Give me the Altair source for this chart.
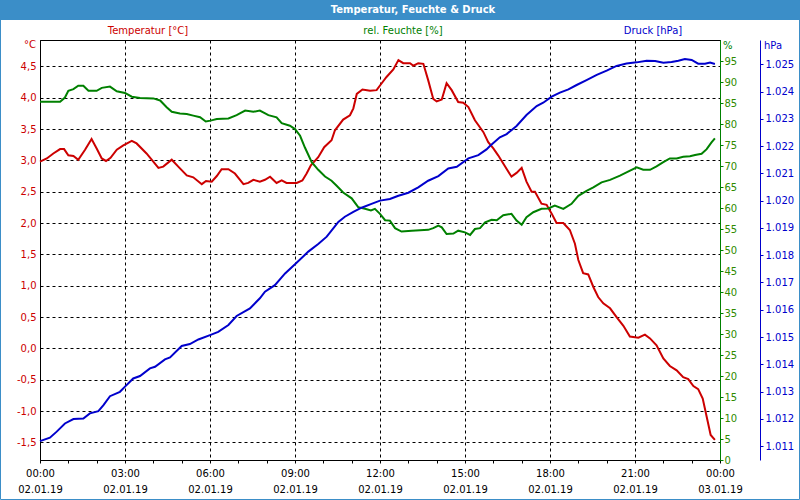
import altair as alt
import pandas as pd

# ---------------- data (hours since 02.01.19 00:00) ----------------
temp_h = [0.00, 0.24, 0.47, 0.71, 0.85, 1.00, 1.18, 1.35, 1.59, 1.82, 2.00, 2.18, 2.33, 2.49, 2.71, 2.94,
          3.24, 3.41, 3.76, 4.18, 4.35, 4.65, 4.88, 5.18, 5.41, 5.71, 5.86, 6.06, 6.24, 6.41, 6.65, 6.88,
          7.18, 7.35, 7.53, 7.76, 7.94, 8.12, 8.35, 8.53, 8.70, 9.06, 9.26, 9.41, 9.56, 9.82, 10.03, 10.29,
          10.41, 10.70, 10.94, 11.06, 11.18, 11.38, 11.65, 11.88, 12.06, 12.23, 12.47, 12.65, 12.82, 13.06,
          13.18, 13.35, 13.53, 13.70, 13.88, 14.00, 14.18, 14.35, 14.53, 14.76, 14.94, 15.12, 15.35, 15.65,
          15.82, 16.00, 16.17, 16.35, 16.64, 16.82, 17.00, 17.17, 17.35, 17.47, 17.70, 17.88, 18.06, 18.23,
          18.47, 18.70, 18.88, 19.00, 19.17, 19.35, 19.53, 19.70, 19.88, 20.12, 20.35, 20.59, 20.82, 21.12,
          21.35, 21.53, 21.76, 22.00, 22.23, 22.47, 22.70, 22.88, 23.06, 23.23, 23.39, 23.53, 23.67, 23.82]
temp_v = [2.98, 3.03, 3.11, 3.18, 3.18, 3.08, 3.07, 3.01, 3.17, 3.34, 3.19, 3.03, 2.99, 3.04, 3.17, 3.24,
          3.31, 3.27, 3.11, 2.88, 2.90, 3.01, 2.90, 2.76, 2.73, 2.62, 2.67, 2.66, 2.75, 2.86, 2.86, 2.79,
          2.62, 2.64, 2.69, 2.66, 2.69, 2.74, 2.64, 2.68, 2.64, 2.64, 2.68, 2.79, 2.92, 3.05, 3.21, 3.32,
          3.48, 3.65, 3.72, 3.83, 4.06, 4.13, 4.11, 4.12, 4.23, 4.33, 4.45, 4.60, 4.55, 4.55,
          4.51, 4.55, 4.54, 4.28, 3.98, 3.94, 3.97, 4.23, 4.12, 3.93, 3.92, 3.85, 3.64, 3.45,
          3.29, 3.19, 3.08, 2.95, 2.74, 2.80, 2.88, 2.66, 2.50, 2.50, 2.31, 2.29, 2.15, 2.00,
          2.00, 1.89, 1.67, 1.41, 1.20, 1.18, 0.98, 0.82, 0.72, 0.64, 0.50, 0.36, 0.19, 0.17,
          0.22, 0.16, 0.05, -0.16, -0.28, -0.35, -0.46, -0.49, -0.60, -0.65, -0.80, -1.09, -1.38, -1.46]

hum_h = [0.00, 0.71, 0.88, 1.00, 1.18, 1.35, 1.53, 1.71, 2.00, 2.18, 2.47, 2.71, 3.00, 3.24, 3.53, 4.00,
         4.24, 4.47, 4.65, 4.94, 5.18, 5.41, 5.65, 5.85, 6.02, 6.24, 6.65, 6.94, 7.24, 7.53, 7.76, 8.06,
         8.35, 8.53, 8.82, 9.00, 9.18, 9.35, 9.59, 9.82, 10.06, 10.29, 10.47, 10.70, 11.00, 11.23, 11.47,
         11.68, 11.82, 12.00, 12.18, 12.35, 12.53, 12.76, 13.12, 13.70, 13.88, 14.06, 14.18, 14.35, 14.59,
         14.76, 15.00, 15.18, 15.35, 15.53, 15.71, 15.94, 16.12, 16.35, 16.64, 16.82, 17.00, 17.17, 17.41,
         17.70, 17.94, 18.17, 18.47, 18.76, 19.00, 19.29, 19.53, 19.82, 20.12, 20.47, 20.70, 21.06, 21.29,
         21.53, 21.76, 22.00, 22.23, 22.47, 22.70, 22.94, 23.12, 23.35, 23.53, 23.70, 23.82]
hum_v = [85.3, 85.3, 86.3, 87.9, 88.3, 89.1, 89.1, 87.9, 87.9, 88.6, 88.9, 87.8, 87.4, 86.5, 86.2, 86.1,
         85.6, 84.0, 82.9, 82.5, 82.4, 82.0, 81.6, 80.6, 80.8, 81.2, 81.3, 82.1, 83.2, 82.9, 83.2, 82.1,
         81.6, 80.2, 79.6, 78.8, 77.2, 74.4, 70.9, 69.1, 67.5, 66.5, 65.3, 63.7, 62.3, 60.2, 59.8,
         59.4, 59.8, 58.6, 57.1, 57.0, 55.2, 54.4, 54.6, 54.8, 55.2, 55.8, 55.4, 53.8, 53.9,
         54.6, 54.2, 53.6, 55.0, 55.2, 56.6, 57.2, 57.1, 58.3, 58.6, 57.0, 56.0, 57.8, 59.0,
         59.8, 59.9, 60.6, 59.8, 61.0, 62.9, 64.1, 64.9, 66.1, 66.7, 67.7, 68.5, 69.7, 69.1,
         69.1, 69.9, 70.9, 71.8, 71.8, 72.2, 72.3, 72.6, 72.9, 74.0, 75.6, 76.6]

pres_h = [0.00, 0.35, 0.59, 0.88, 1.18, 1.53, 1.76, 2.06, 2.24, 2.47, 2.82, 3.00, 3.29, 3.53, 3.88, 4.06,
          4.41, 4.59, 5.00, 5.29, 5.59, 6.00, 6.29, 6.65, 6.94, 7.41, 7.76, 7.94, 8.29, 8.65, 9.00, 9.47,
          9.82, 10.12, 10.35, 10.53, 10.76, 11.06, 11.35, 11.70, 12.00, 12.35, 12.65, 13.00, 13.35, 13.70,
          14.06, 14.41, 14.71, 15.12, 15.47, 15.76, 15.88, 16.23, 16.47, 16.82, 17.17, 17.53, 17.76, 18.06,
          18.35, 18.65, 18.94, 19.29, 19.65, 20.00, 20.35, 20.70, 21.06, 21.41, 21.71, 22.00, 22.29, 22.53,
          22.76, 23.00, 23.23, 23.47, 23.65, 23.82]
pres_v = [1011.18, 1011.31, 1011.53, 1011.83, 1011.99, 1012.01, 1012.20, 1012.28, 1012.50, 1012.83, 1012.99,
          1013.18, 1013.48, 1013.57, 1013.85, 1013.91, 1014.18, 1014.25, 1014.67, 1014.74, 1014.91, 1015.07,
          1015.19, 1015.44, 1015.77, 1016.05, 1016.42, 1016.66, 1016.90, 1017.33, 1017.67, 1018.13, 1018.41,
          1018.68, 1018.98, 1019.22, 1019.41, 1019.59, 1019.74, 1019.88, 1020.00, 1020.06, 1020.18, 1020.29,
          1020.49, 1020.73, 1020.90, 1021.18, 1021.24, 1021.55, 1021.67, 1021.88, 1022.00, 1022.32, 1022.44,
          1022.74, 1023.14, 1023.47, 1023.59, 1023.81, 1023.96, 1024.08, 1024.24, 1024.42, 1024.61, 1024.77,
          1024.94, 1025.03, 1025.07, 1025.13, 1025.12, 1025.06, 1025.08, 1025.13, 1025.19, 1025.16, 1025.02,
          1025.02, 1025.06, 1025.01]

# ticks / labels
x_ticks = list(range(0, 25))
x_label_hours = [0, 3, 6, 9, 12, 15, 18, 21, 24]
x_label_time = ["00:00", "03:00", "06:00", "09:00", "12:00", "15:00", "18:00", "21:00", "00:00"]
x_label_date = ["02.01.19"] * 8 + ["03.01.19"]
temp_ticks = [-1.5, -1.0, -0.5, 0.0, 0.5, 1.0, 1.5, 2.0, 2.5, 3.0, 3.5, 4.0, 4.5]
hum_ticks = list(range(0, 100, 5))
pres_ticks = list(range(1011, 1026))

title_text = "Temperatur, Feuchte & Druck"
legend_texts = ["Temperatur [°C]", "rel. Feuchte [%]", "Druck [hPa]"]
unit_texts = ["°C", "%", "hPa"]

# ---------------- styles ----------------
FONT = "DejaVu Sans"
RED = "#cc0000"
GREEN = "#008000"
GREEN_L = "#2f8a00"
BLUE = "#0000cc"
BAR = "#3b8ec8"

W, H = 680, 420

times_arr = "[" + ",".join("'%s'" % t for t in x_label_time) + "]"
dates_arr = "[" + ",".join("'%s'" % d for d in x_label_date) + "]"
x_label_expr = ("datum.value % 3 == 0 ? [" + times_arr + "[datum.value / 3], "
                + dates_arr + "[datum.value / 3]] : ''")

x_enc = alt.X(
    "h:Q",
    scale=alt.Scale(domain=[0, 24], nice=False, zero=False),
    axis=alt.Axis(
        values=x_ticks, labelExpr=x_label_expr, title=None,
        grid=True, gridColor="black", gridDash=[3, 3], gridWidth=1,
        gridOpacity={"condition": {"test": "datum.value % 3 == 0", "value": 1}, "value": 0},
        tickSize=3, tickColor="black", domainColor="black",
        labelColor="black", labelFont=FONT, labelFontSize=10, labelPadding=5,
        labelLineHeight=16, labelOverlap=False, labelFlush=False, labelBound=False,
    ),
)

temp_df = pd.DataFrame({"h": temp_h, "v": temp_v})
hum_df = pd.DataFrame({"h": hum_h, "v": hum_v})
pres_df = pd.DataFrame({"h": pres_h, "v": pres_v})

temp_line = alt.Chart(temp_df).mark_line(color=RED, strokeWidth=2).encode(
    x=x_enc,
    y=alt.Y("v:Q", scale=alt.Scale(domain=[-1.78, 4.92], nice=False, zero=False),
            axis=alt.Axis(orient="left", values=temp_ticks, title=None,
                          labelExpr="replace(replace(format(datum.value, '.1f'), '.', ','), '\u2212', '-')",
                          grid=True, gridColor="black", gridDash=[3, 3], gridWidth=1,
                          ticks=False, domainColor="black", labelColor=RED,
                          labelFont=FONT, labelFontSize=10, labelPadding=4)),
)

hum_line = alt.Chart(hum_df).mark_line(color=GREEN, strokeWidth=2).encode(
    x=x_enc,
    y=alt.Y("v:Q", scale=alt.Scale(domain=[0, 100], nice=False, zero=False),
            axis=alt.Axis(orient="right", values=hum_ticks, title=None, grid=False,
                          tickSize=3, tickColor=GREEN, domainColor=GREEN, labelColor=GREEN_L,
                          labelFont=FONT, labelFontSize=10, labelPadding=1)),
)

pres_line = alt.Chart(pres_df).mark_line(color=BLUE, strokeWidth=2).encode(
    x=x_enc,
    y=alt.Y("v:Q", scale=alt.Scale(domain=[1010.49, 1025.89], nice=False, zero=False),
            axis=alt.Axis(orient="right", offset=40, values=pres_ticks, title=None, grid=False,
                          labelExpr="replace(format(datum.value, ','), ',', '.')",
                          tickSize=3, tickColor=BLUE, domainColor=BLUE, labelColor=BLUE,
                          labelFont=FONT, labelFontSize=10, labelPadding=2)),
)

# ---------------- decoration ----------------
bar = alt.Chart().mark_rect(color=BAR).encode(
    x=alt.value(-40), x2=alt.value(760), y=alt.value(-40), y2=alt.value(-20))
border = alt.Chart().mark_rect(fill=None, stroke=BAR, strokeWidth=1).encode(
    x=alt.value(-39.5), x2=alt.value(759.5), y=alt.value(-39.5), y2=alt.value(459.5))
title = alt.Chart().mark_text(color="white", font=FONT, fontSize=10, fontWeight="bold",
                              baseline="middle", align="center").encode(
    x=alt.value(373), y=alt.value(-30), text=alt.value(title_text))

leg_colors = [RED, GREEN, BLUE]
leg_x = [108, 363, 613]
legends = [alt.Chart().mark_text(color=c, font=FONT, fontSize=10, baseline="middle", align="center")
           .encode(x=alt.value(xx), y=alt.value(-9), text=alt.value(t))
           for t, c, xx in zip(legend_texts, leg_colors, leg_x)]

unit_pos = [(-4, 5, "right"), (683, 6, "left"), (724, 6, "left")]
units = [alt.Chart().mark_text(color=c, font=FONT, fontSize=10, baseline="middle", align=a)
         .encode(x=alt.value(xx), y=alt.value(yy), text=alt.value(t))
         for t, c, (xx, yy, a) in zip(unit_texts, leg_colors, unit_pos)]

chart = alt.layer(
    bar, border, title, *legends, *units, temp_line, hum_line, pres_line
).resolve_scale(y="independent").properties(
    width=W, height=H,
    autosize=alt.AutoSizeParams(type="none"),
    padding={"left": 40, "top": 40, "right": 80, "bottom": 40},
    background="white",
).configure_view(stroke="black", strokeWidth=1)

chart.save("out.html", embed_options={"renderer": "svg", "actions": False})
